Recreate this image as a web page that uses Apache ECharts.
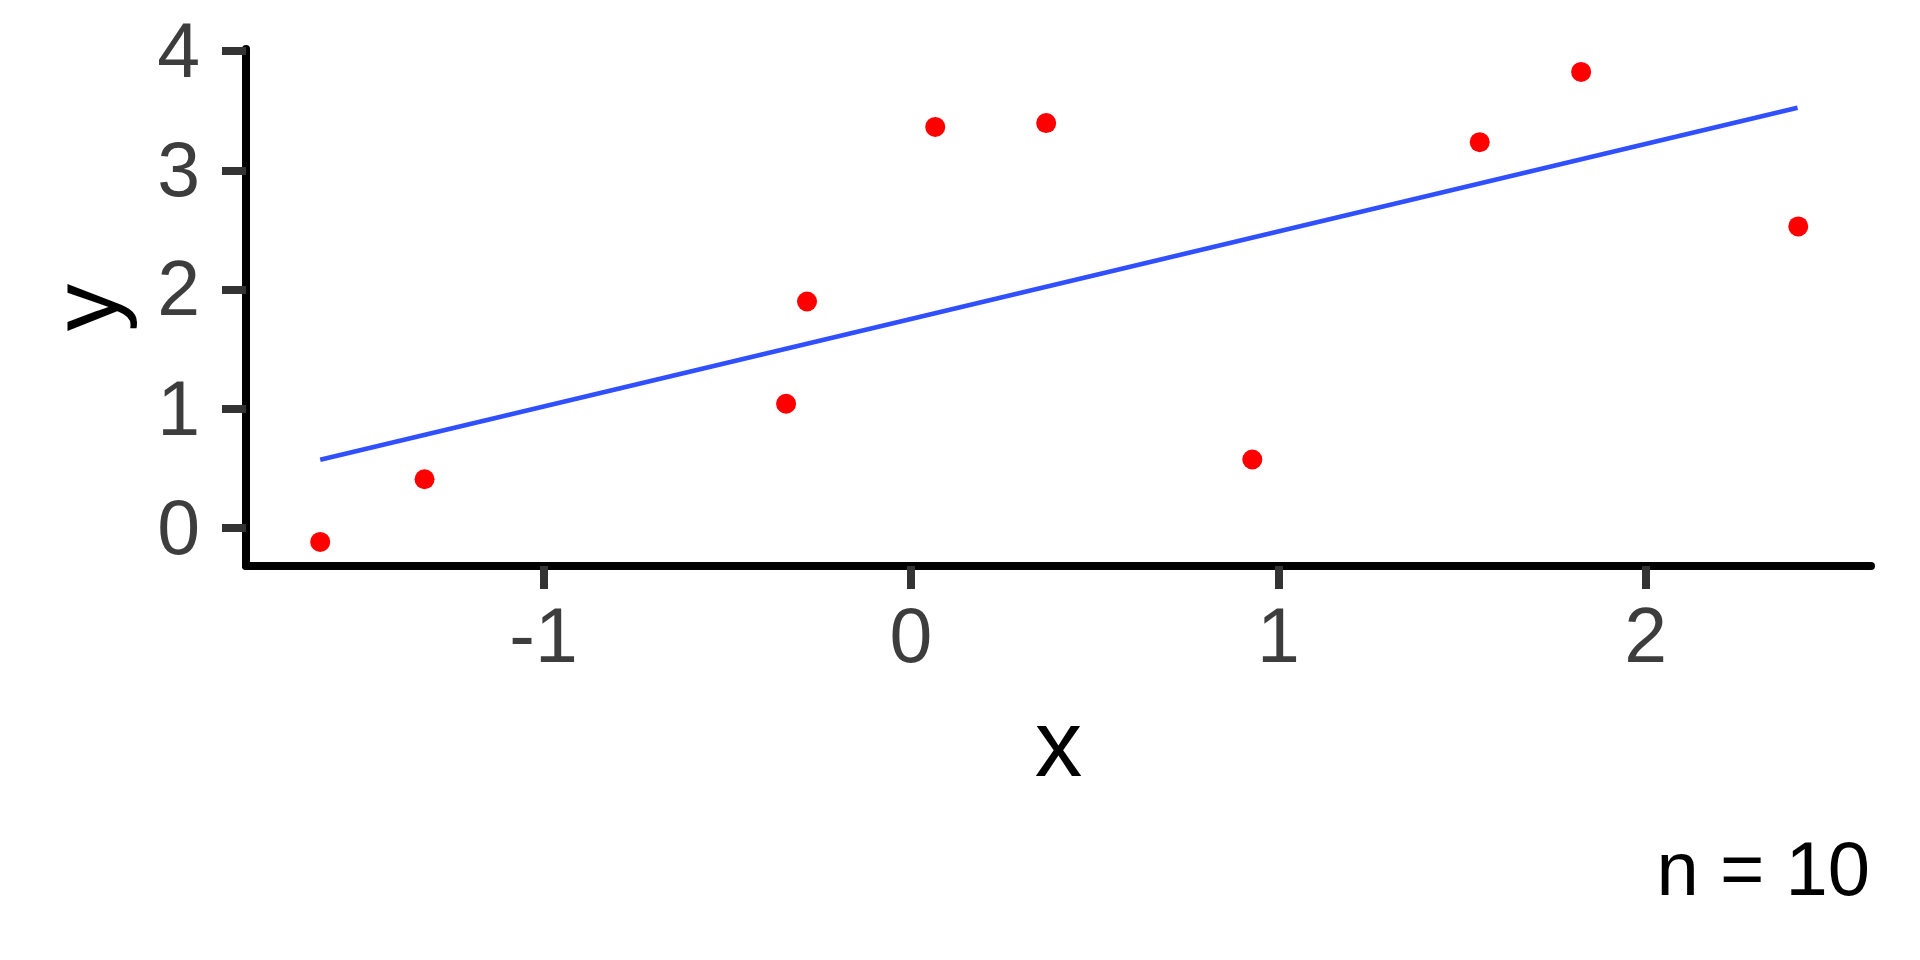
<!DOCTYPE html>
<html>
<head>
<meta charset="utf-8">
<script src="https://cdn.jsdelivr.net/npm/echarts@6/dist/echarts.min.js"></script>
<style>
  html, body { margin: 0; padding: 0; background: #fff; }
  #chart { width: 1920px; height: 960px; }
</style>
</head>
<body>
<div id="chart"></div>
<script>
// points
const xs = [-1.608, -1.324, -0.340, -0.283, 0.066, 0.368, 0.929, 1.548, 1.824, 2.415]
const ys = [-0.115, 0.410, 1.043, 1.900, 3.364, 3.396, 0.576, 3.236, 3.825, 2.530]
// fitted line end points
const fitX = [-1.608, 2.413]
const fitY = [0.573, 3.524]
const xTicks = [-1, 0, 1, 2]
const yTicks = [0, 1, 2, 3, 4]
const caption = 'n = 10'

const font = "'Liberation Sans', Arial, sans-serif"
const chart = echarts.init(document.getElementById('chart'))

chart.setOption({
  animation: false,
  backgroundColor: '#fff',
  title: {
    text: caption,
    right: 50,
    top: 836,
    padding: 0,
    textStyle: { fontFamily: font, fontSize: 76, fontWeight: 'normal', color: '#000' },
  },
  grid: { left: 246, right: 49, top: 49, bottom: 394, containLabel: false },
  xAxis: {
    type: 'value',
    min: -1.81,
    max: 2.613,
    name: 'x',
    nameLocation: 'middle',
    nameGap: 136,
    nameTextStyle: { fontFamily: font, fontSize: 95, color: '#000' },
    splitLine: { show: false },
    axisLine: { show: true, onZero: false, lineStyle: { color: '#000', width: 8 } },
    axisTick: { show: true, length: 23, customValues: xTicks, lineStyle: { color: '#333', width: 8 } },
    axisLabel: { customValues: xTicks, margin: 36, fontFamily: font, fontSize: 77, color: '#3d3d3d' },
  },
  yAxis: {
    type: 'value',
    min: -0.317,
    max: 4.017,
    name: 'y',
    nameLocation: 'middle',
    nameGap: 108,
    nameTextStyle: { fontFamily: font, fontSize: 95, color: '#000' },
    splitLine: { show: false },
    axisLine: { show: true, onZero: false, lineStyle: { color: '#000', width: 8 } },
    axisTick: { show: true, length: 24, customValues: yTicks, lineStyle: { color: '#333', width: 8 } },
    axisLabel: {
      customValues: yTicks,
      margin: 46,
      formatter: '{t|{value}}',
      rich: { t: { padding: [9, 0, 0, 0], fontFamily: font, fontSize: 77, color: '#3d3d3d' } },
    },
  },
  series: [
    {
      type: 'line',
      data: fitX.map((x, i) => [x, fitY[i]]),
      showSymbol: false,
      lineStyle: { color: '#3050ff', width: 4.6 },
      z: 2,
    },
    {
      type: 'scatter',
      data: xs.map((x, i) => [x, ys[i]]),
      symbolSize: 20,
      itemStyle: { color: '#ff0000', opacity: 1 },
      z: 3,
    },
  ],
})
</script>
</body>
</html>
